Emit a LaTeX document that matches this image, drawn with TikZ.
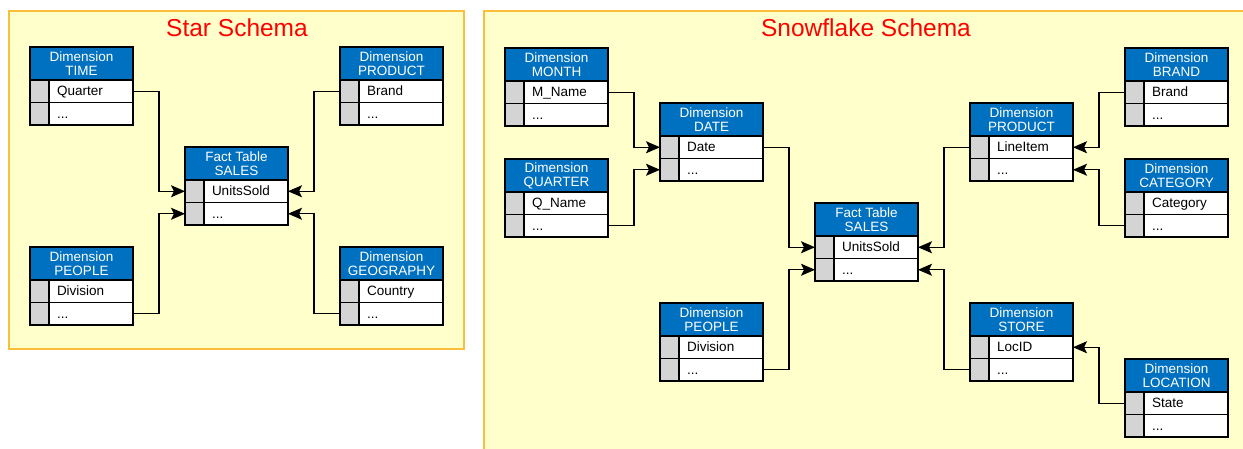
\documentclass[tikz,border=0pt]{standalone}
\usepackage{fontspec}
\setmainfont{Liberation Sans}
\usetikzlibrary{arrows.meta}
\definecolor{hdblue}{RGB}{0,112,192}
\definecolor{keygray}{RGB}{212,212,212}
\definecolor{panelfill}{RGB}{255,255,204}
\definecolor{panelline}{RGB}{250,192,60}
\tikzset{
  tabhead/.style={draw, line width=1.2pt, fill=hdblue, text=white, anchor=north west, outer sep=0pt,
    minimum width=103pt, minimum height=33pt, inner sep=0pt, align=center, font=\fontsize{13.5}{14}\selectfont},
  tabkey/.style={draw, line width=1.2pt, fill=keygray, anchor=north west, outer sep=0pt,
    minimum width=19pt, minimum height=22.5pt, inner sep=0pt},
  tabrow/.style={draw, line width=1.2pt, fill=white, anchor=north west, outer sep=0pt,
    minimum width=84pt, minimum height=22.5pt, inner xsep=8pt, inner ysep=0pt,
    text width=68pt, text height=10.5pt, text depth=1.5pt, align=left, font=\fontsize{13.5}{14}\selectfont},
  link/.style={line width=1.2pt, -{Stealth[length=14pt,width=12pt,inset=3pt]}},
  panel/.style={draw=panelline, line width=1.2pt, fill=panelfill},
  paneltitle/.style={text=red, font=\fontsize{24.5}{28}\selectfont}
}
% one dimension table: name, x, y, header lines, key field
\newcommand{\schemtab}[6]{%
  \node [tabhead] (#1) at (#2,#3) {#4\\#5};
  \node [tabkey] (#1-k1) at (#2,#3+33) {};
  \node [tabrow] (#1-a) at (#2+19,#3+33) {#6};
  \node [tabkey] (#1-k2) at (#2,#3+55.5) {};
  \node [tabrow] (#1-b) at (#2+19,#3+55.5) {...};
}
\begin{document}
\begin{tikzpicture}[x=1pt, y=-1pt]
            \useasboundingbox (0,0) rectangle (1243,448);
            \begin{scope}
                \clip (0,0) rectangle (1243,448);
                \draw [panel] (9,11) rectangle (464,349);
                \draw [panel] (484,11) rectangle (1262,470);
            \end{scope}
            \node [paneltitle] (startitle) at (237,28) {Star Schema};
            \node [paneltitle] (snowtitle) at (866,28) {Snowflake Schema};
            % star schema
            \schemtab{stime}{30}{47}{Dimension}{TIME}{Quarter}
            \schemtab{sproduct}{340}{47}{Dimension}{PRODUCT}{Brand}
            \schemtab{sfact}{185}{147}{Fact Table}{SALES}{UnitsSold}
            \schemtab{speople}{30}{247}{Dimension}{PEOPLE}{Division}
            \schemtab{sgeo}{340}{247}{Dimension}{GEOGRAPHY}{Country}
            \draw [link] (stime-a.east) -- ++(26,0) |- (sfact-k1.west);
            \draw [link] (speople-b.east) -- ++(26,0) |- (sfact-k2.west);
            \draw [link] (sproduct-k1.west) -- ++(-26,0) |- (sfact-a.east);
            \draw [link] (sgeo-k2.west) -- ++(-26,0) |- (sfact-b.east);
            % snowflake schema
            \schemtab{fmonth}{505}{48}{Dimension}{MONTH}{M\_Name}
            \schemtab{fquarter}{505}{159}{Dimension}{QUARTER}{Q\_Name}
            \schemtab{fdate}{660}{103}{Dimension}{DATE}{Date}
            \schemtab{fpeople}{660}{303}{Dimension}{PEOPLE}{Division}
            \schemtab{ffact}{815}{203}{Fact Table}{SALES}{UnitsSold}
            \schemtab{fproduct}{970}{103}{Dimension}{PRODUCT}{LineItem}
            \schemtab{fstore}{970}{303}{Dimension}{STORE}{LocID}
            \schemtab{fbrand}{1125}{48}{Dimension}{BRAND}{Brand}
            \schemtab{fcategory}{1125}{159}{Dimension}{CATEGORY}{Category}
            \schemtab{flocation}{1125}{359}{Dimension}{LOCATION}{State}
            \draw [link] (fmonth-a.east) -- ++(26,0) |- (fdate-k1.west);
            \draw [link] (fquarter-b.east) -- ++(26,0) |- (fdate-k2.west);
            \draw [link] (fdate-a.east) -- ++(26,0) |- (ffact-k1.west);
            \draw [link] (fpeople-b.east) -- ++(26,0) |- (ffact-k2.west);
            \draw [link] (fproduct-k1.west) -- ++(-26,0) |- (ffact-a.east);
            \draw [link] (fstore-k2.west) -- ++(-26,0) |- (ffact-b.east);
            \draw [link] (fbrand-k1.west) -- ++(-26,0) |- (fproduct-a.east);
            \draw [link] (fcategory-k2.west) -- ++(-26,0) |- (fproduct-b.east);
            \draw [link] (flocation-k1.west) -- ++(-26,0) |- (fstore-a.east);
        \end{tikzpicture}
\end{document}
